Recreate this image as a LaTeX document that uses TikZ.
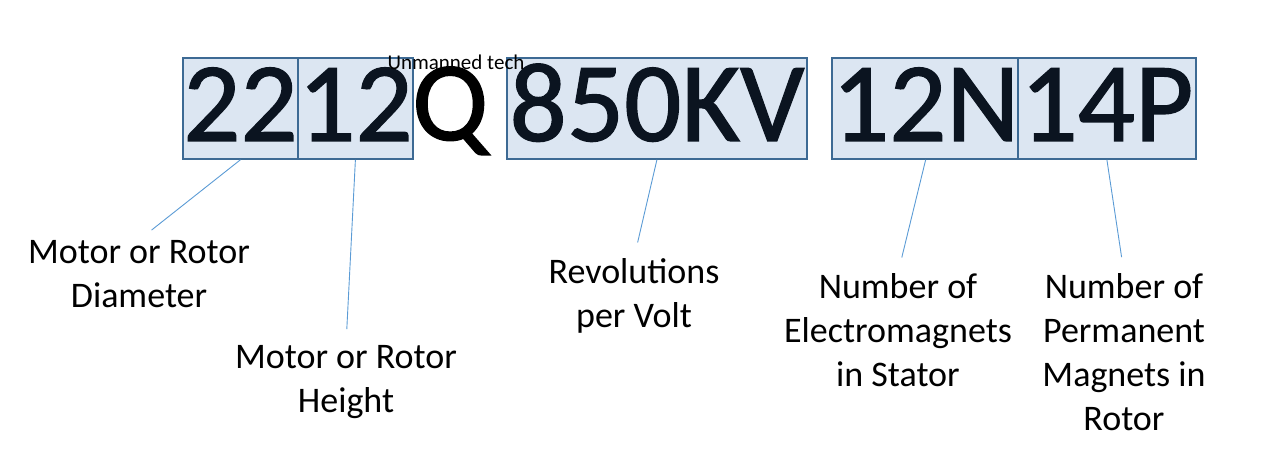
\documentclass[tikz,border=0pt]{standalone}
\usepackage{fontspec}
\setmainfont{Carlito}
\newfontfamily\codefont[FakeBold=1.2]{Carlito}
\definecolor{boxfill}{HTML}{DCE6F2}
\definecolor{boxline}{HTML}{3D6A94}
\definecolor{leadline}{HTML}{5B9BD5}
\definecolor{codeink}{HTML}{0B1420}
\tikzset{
  codebox/.style={draw=boxline, line width=1.8pt, fill=boxfill, anchor=north west, inner sep=0pt,
    minimum height=101pt, text height=83pt, text depth=18pt, text=codeink,
    font=\codefont\fontsize{113}{113}\selectfont},
  meaning/.style={anchor=north, inner sep=0pt, align=center, font=\fontsize{36}{44}\selectfont},
  lead/.style={draw=leadline, line width=0.9pt, shorten >=16pt}
}
\begin{document}
\begin{tikzpicture}[x=1pt, y=-1pt]
        \useasboundingbox (0,0) rectangle (1288,467);
        % the motor code
        \node [codebox, minimum width=115pt] (dia) at (182,57) {22};
        \node [codebox, minimum width=115pt] (hgt) at (297,57) {12};
        \node [anchor=base west, inner sep=0pt, font=\codefont\fontsize{113}{113}\selectfont] (series) at (412,140) {Q};
        \node [codebox, minimum width=300pt] (kv) at (506,57) {850KV};
        \node [codebox, minimum width=186pt] (stator) at (831,57) {12N};
        \node [codebox, minimum width=178pt] (rotor) at (1017,57) {14P};
        \node [anchor=base, inner sep=0pt, font=\fontsize{21}{21}\selectfont] (brand) at (456,69) {Unmanned tech};
        % what each part means
        \node [meaning] (diatxt) at (139,240) {Motor or Rotor\\Diameter};
        \node [meaning] (hgttxt) at (346,345) {Motor or Rotor\\Height};
        \node [meaning] (kvtxt) at (634,258) {Revolutions\\per Volt};
        \node [meaning] (statortxt) at (898,273) {Number of\\Electromagnets\\in Stator};
        \node [meaning] (rotortxt) at (1124,273) {Number of\\Permanent\\Magnets in\\Rotor};
        % leader lines
        \draw [lead] (dia.south) -- (diatxt.north);
        \draw [lead] (hgt.south) -- (hgttxt.north);
        \draw [lead] (kv.south) -- (kvtxt.north);
        \draw [lead] (stator.south) -- (statortxt.north);
        \draw [lead] (rotor.south) -- (rotortxt.north);
\end{tikzpicture}
\end{document}
